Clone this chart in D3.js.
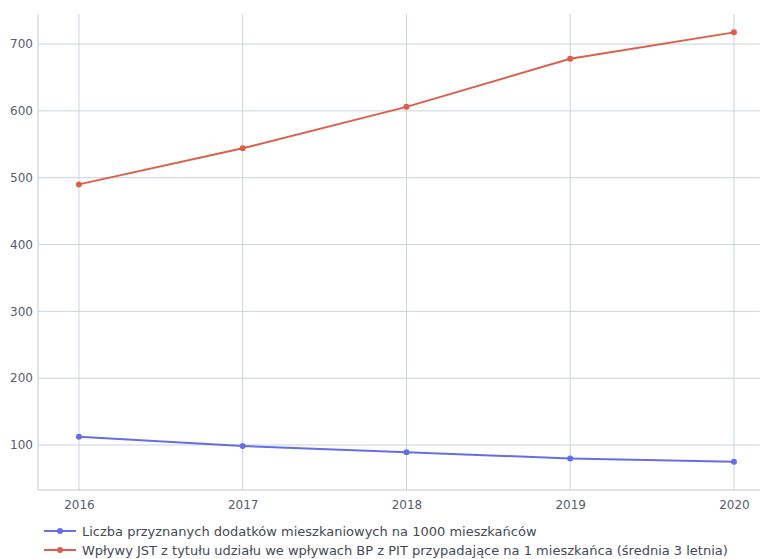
<!DOCTYPE html>
<html>
<head>
<meta charset="utf-8">
<script src="https://cdn.jsdelivr.net/npm/d3@7/dist/d3.min.js"></script>
<style>
  html, body { margin: 0; padding: 0; background: #ffffff; }
  svg { display: block; }
  text { font-family: "DejaVu Sans", Verdana, sans-serif; }
</style>
</head>
<body>
<svg id="chart" width="762" height="559"></svg>
<script>
const years = [2016, 2017, 2018, 2019, 2020];
const seriesNames = [
  "Liczba przyznanych dodatków mieszkaniowych na 1000 mieszkańców",
  "Wpływy JST z tytułu udziału we wpływach BP z PIT przypadające na 1 mieszkańca (średnia 3 letnia)"
];
const dodatki = [112.4, 98.5, 89.0, 79.9, 75.0];
const wplywy = [490, 544, 606, 678, 717.5];
const yTicks = [100, 200, 300, 400, 500, 600, 700];
const colors = ["#646ee8", "#de5e4a"];

const svg = d3.select("#chart");
const plot = { left: 38, right: 760, top: 14, bottom: 490 };

const x = d3.scaleLinear()
  .domain([2015.75, 2020.25])
  .range([plot.left, plot.left + (734 - 79) * 4.5 / 4]);
const y = d3.scaleLinear().domain([32.6, 745]).range([plot.bottom, plot.top]);

const grid = svg.append("g");
grid.selectAll("line.h").data(yTicks).join("line")
  .attr("x1", plot.left).attr("x2", plot.right)
  .attr("y1", d => y(d)).attr("y2", d => y(d))
  .attr("stroke", "#cbd2df").attr("stroke-width", 1);
grid.selectAll("line.v").data(years).join("line")
  .attr("x1", d => x(d)).attr("x2", d => x(d))
  .attr("y1", plot.top).attr("y2", plot.bottom)
  .attr("stroke", "#cbd2df").attr("stroke-width", 1);

svg.append("line").attr("x1", plot.left).attr("x2", plot.left)
  .attr("y1", plot.top).attr("y2", plot.bottom)
  .attr("stroke", "#c4c8d0").attr("stroke-width", 1);
svg.append("line").attr("x1", plot.left).attr("x2", plot.right)
  .attr("y1", plot.bottom).attr("y2", plot.bottom)
  .attr("stroke", "#c4c8d0").attr("stroke-width", 1);

const yAxis = d3.axisLeft(y).tickValues(yTicks).tickSize(0).tickPadding(5);
const yg = svg.append("g").attr("transform", `translate(${plot.left},0)`).call(yAxis);
yg.select(".domain").remove();
yg.selectAll("text").attr("fill", "#555d6b").style("font-size", "12px")
  .style("font-family", "'DejaVu Sans', Verdana, sans-serif");

const xAxis = d3.axisBottom(x).tickValues(years).tickFormat(d3.format("d")).tickSize(0).tickPadding(10);
const xg = svg.append("g").attr("transform", `translate(0,${plot.bottom})`).call(xAxis);
xg.select(".domain").remove();
xg.selectAll("text").attr("fill", "#555d6b").style("font-size", "12px")
  .style("font-family", "'DejaVu Sans', Verdana, sans-serif");

const series = [dodatki, wplywy];
const line = d3.line().x((d, i) => x(years[i])).y(d => y(d));
series.forEach((s, k) => {
  svg.append("path").datum(s)
    .attr("d", line).attr("fill", "none")
    .attr("stroke", colors[k]).attr("stroke-width", 2);
  svg.selectAll(null).data(s).join("circle")
    .attr("cx", (d, i) => x(years[i])).attr("cy", d => y(d))
    .attr("r", 3).attr("fill", colors[k]);
});

const legend = svg.append("g");
seriesNames.forEach((name, k) => {
  const ly = 531 + k * 19;
  legend.append("line").attr("x1", 44).attr("x2", 76).attr("y1", ly).attr("y2", ly)
    .attr("stroke", colors[k]).attr("stroke-width", 2);
  legend.append("circle").attr("cx", 60).attr("cy", ly).attr("r", 3).attr("fill", colors[k]);
  legend.append("text").attr("x", 82).attr("y", ly).attr("dy", "0.35em")
    .attr("fill", "#444a55").style("font-size", "13px").text(name);
});
</script>
</body>
</html>
